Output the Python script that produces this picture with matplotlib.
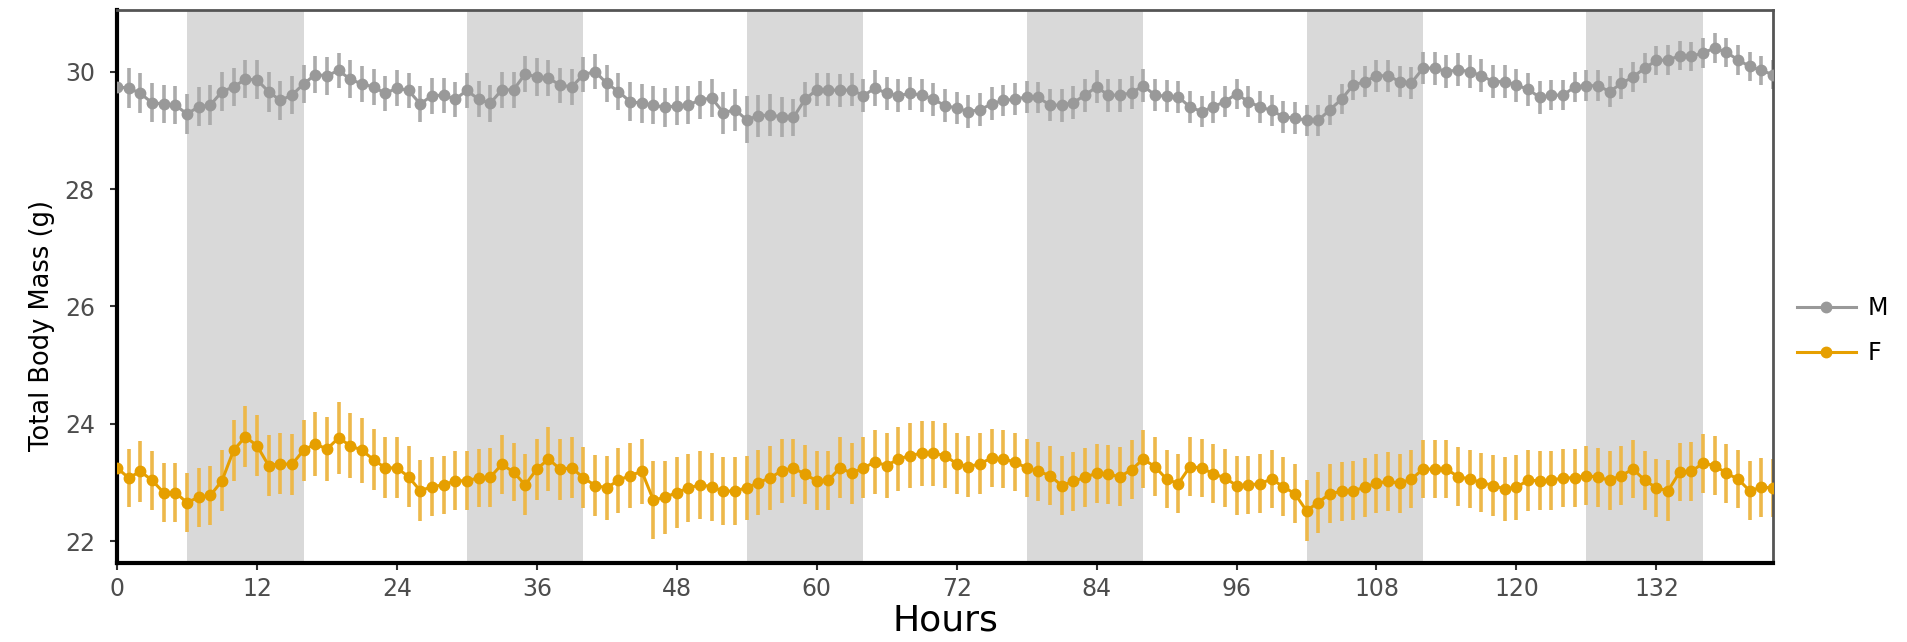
import matplotlib
matplotlib.use("Agg")
import matplotlib.pyplot as plt
from matplotlib.lines import Line2D

hours = list(range(143))

male_mean = [
    29.74, 29.72, 29.63, 29.47, 29.45, 29.43, 29.28, 29.40, 29.43, 29.66,
    29.74, 29.87, 29.86, 29.66, 29.51, 29.60, 29.79, 29.95, 29.93, 30.02,
    29.87, 29.79, 29.74, 29.63, 29.72, 29.68, 29.45, 29.59, 29.60, 29.53,
    29.68, 29.53, 29.46, 29.69, 29.69, 29.96, 29.91, 29.89, 29.77, 29.74,
    29.95, 30.00, 29.80, 29.66, 29.49, 29.46, 29.43, 29.39, 29.42, 29.43,
    29.52, 29.55, 29.30, 29.35, 29.18, 29.25, 29.26, 29.23, 29.22, 29.53,
    29.69, 29.69, 29.68, 29.69, 29.59, 29.72, 29.63, 29.59, 29.63, 29.60,
    29.53, 29.42, 29.38, 29.32, 29.35, 29.45, 29.51, 29.53, 29.57, 29.56,
    29.43, 29.43, 29.47, 29.60, 29.74, 29.60, 29.60, 29.64, 29.76, 29.60,
    29.58, 29.57, 29.40, 29.32, 29.40, 29.49, 29.62, 29.49, 29.40, 29.34,
    29.23, 29.21, 29.17, 29.17, 29.35, 29.53, 29.77, 29.83, 29.93, 29.93,
    29.83, 29.81, 30.06, 30.06, 30.00, 30.03, 30.00, 29.93, 29.83, 29.83,
    29.77, 29.70, 29.56, 29.60, 29.60, 29.74, 29.76, 29.76, 29.66, 29.80,
    29.91, 30.06, 30.19, 30.20, 30.27, 30.26, 30.32, 30.40, 30.33, 30.20,
    30.09, 30.02, 29.95,
]

male_se = [
    0.32, 0.34, 0.34, 0.33, 0.32, 0.32, 0.34, 0.33, 0.34, 0.33,
    0.33, 0.32, 0.33, 0.34, 0.33, 0.32, 0.33, 0.32, 0.32, 0.30,
    0.32, 0.31, 0.30, 0.30, 0.30, 0.30, 0.30, 0.31, 0.30, 0.30,
    0.30, 0.31, 0.31, 0.31, 0.31, 0.31, 0.32, 0.30, 0.30, 0.31,
    0.30, 0.30, 0.31, 0.32, 0.33, 0.33, 0.32, 0.33, 0.33, 0.32,
    0.32, 0.33, 0.36, 0.36, 0.40, 0.36, 0.36, 0.34, 0.32, 0.30,
    0.28, 0.28, 0.28, 0.28, 0.28, 0.30, 0.28, 0.28, 0.28, 0.28,
    0.28, 0.28, 0.28, 0.28, 0.28, 0.28, 0.27, 0.27, 0.27, 0.27,
    0.27, 0.28, 0.28, 0.28, 0.28, 0.28, 0.28, 0.28, 0.28, 0.27,
    0.27, 0.27, 0.27, 0.27, 0.27, 0.26, 0.26, 0.27, 0.27, 0.27,
    0.27, 0.27, 0.27, 0.27, 0.26, 0.26, 0.26, 0.27, 0.27, 0.27,
    0.27, 0.27, 0.27, 0.28, 0.28, 0.28, 0.28, 0.28, 0.28, 0.28,
    0.28, 0.28, 0.28, 0.26, 0.26, 0.26, 0.26, 0.26, 0.26, 0.26,
    0.26, 0.25, 0.25, 0.25, 0.25, 0.25, 0.25, 0.25, 0.25, 0.25,
    0.25, 0.25, 0.25,
]

female_mean = [
    23.25, 23.08, 23.19, 23.04, 22.83, 22.83, 22.66, 22.75, 22.78, 23.03,
    23.55, 23.78, 23.63, 23.29, 23.32, 23.31, 23.55, 23.66, 23.57, 23.76,
    23.63, 23.55, 23.39, 23.25, 23.25, 23.10, 22.86, 22.93, 22.96, 23.03,
    23.03, 23.08, 23.09, 23.31, 23.18, 22.96, 23.23, 23.40, 23.23, 23.25,
    23.08, 22.95, 22.91, 23.04, 23.12, 23.19, 22.70, 22.75, 22.83, 22.91,
    22.96, 22.93, 22.85, 22.86, 22.91, 23.00, 23.08, 23.20, 23.25, 23.14,
    23.03, 23.04, 23.25, 23.16, 23.25, 23.35, 23.29, 23.40, 23.46, 23.50,
    23.50, 23.46, 23.32, 23.27, 23.32, 23.42, 23.40, 23.35, 23.25, 23.19,
    23.12, 22.95, 23.02, 23.09, 23.16, 23.14, 23.10, 23.22, 23.40, 23.27,
    23.06, 22.98, 23.27, 23.25, 23.15, 23.08, 22.95, 22.96, 22.98, 23.06,
    22.93, 22.81, 22.52, 22.66, 22.81, 22.85, 22.86, 22.92, 22.99, 23.02,
    22.99, 23.06, 23.23, 23.23, 23.23, 23.10, 23.06, 23.00, 22.95, 22.89,
    22.92, 23.04, 23.03, 23.04, 23.08, 23.08, 23.12, 23.09, 23.04, 23.12,
    23.23, 23.04, 22.91, 22.86, 23.18, 23.19, 23.33, 23.29, 23.16, 23.06,
    22.86, 22.92, 22.91,
]

female_se = [
    0.50, 0.50, 0.52, 0.50, 0.50, 0.50, 0.50, 0.50, 0.50, 0.52,
    0.52, 0.52, 0.52, 0.52, 0.52, 0.52, 0.52, 0.55, 0.55, 0.62,
    0.55, 0.55, 0.52, 0.52, 0.52, 0.52, 0.52, 0.50, 0.50, 0.50,
    0.50, 0.50, 0.50, 0.50, 0.50, 0.52, 0.52, 0.55, 0.52, 0.52,
    0.52, 0.52, 0.55, 0.55, 0.55, 0.55, 0.66, 0.62, 0.60, 0.58,
    0.58, 0.58, 0.58, 0.58, 0.55, 0.55, 0.55, 0.55, 0.50, 0.50,
    0.50, 0.50, 0.52, 0.52, 0.52, 0.55, 0.55, 0.55, 0.55, 0.55,
    0.55, 0.55, 0.52, 0.52, 0.52, 0.50, 0.50, 0.50, 0.50, 0.50,
    0.50, 0.50, 0.50, 0.50, 0.50, 0.50, 0.50, 0.50, 0.50, 0.50,
    0.50, 0.50, 0.50, 0.50, 0.50, 0.50, 0.50, 0.50, 0.50, 0.50,
    0.50, 0.50, 0.52, 0.52, 0.50, 0.50, 0.50, 0.50, 0.50, 0.50,
    0.50, 0.50, 0.50, 0.50, 0.50, 0.50, 0.50, 0.50, 0.52, 0.55,
    0.55, 0.52, 0.50, 0.50, 0.50, 0.50, 0.50, 0.50, 0.50, 0.50,
    0.50, 0.50, 0.50, 0.52, 0.50, 0.50, 0.50, 0.50, 0.50, 0.50,
    0.50, 0.50, 0.50,
]

dark_start = [6, 30, 54, 78, 102, 126]
dark_end = [16, 40, 64, 88, 112, 136]

x_ticks = [0, 12, 24, 36, 48, 60, 72, 84, 96, 108, 120, 132]
y_ticks = [22, 24, 26, 28, 30]

series_labels = ["M", "F"]
c_m = "#999999"
c_m_err = "#ABABAB"
c_f = "#E69F00"
c_f_err = "#EDB84A"

fig = plt.figure(figsize=(19.07, 6.42), dpi=100)
ax = fig.add_axes([117 / 1907, 1 - 563 / 642, (1773 - 117) / 1907, (563 - 10) / 642])

for s, e in zip(dark_start, dark_end):
    ax.axvspan(s, e, color="#D9D9D9", lw=0, zorder=0)

ax.errorbar(hours, male_mean, yerr=male_se, fmt="none", ecolor=c_m_err, elinewidth=2.6, capsize=0, zorder=2)
ax.plot(hours, male_mean, color=c_m, lw=2.2, marker="o", ms=7.5, mec=c_m, mfc=c_m, zorder=3)

ax.errorbar(hours, female_mean, yerr=female_se, fmt="none", ecolor=c_f_err, elinewidth=2.6, capsize=0, zorder=2)
ax.plot(hours, female_mean, color=c_f, lw=2.2, marker="o", ms=7.5, mec=c_f, mfc=c_f, zorder=3)

ax.set_xlim(0, 142)
ax.set_ylim(21.63, 31.05)
ax.set_xticks(x_ticks)
ax.set_xticklabels([str(t) for t in x_ticks])
ax.set_yticks(y_ticks)
ax.set_yticklabels([str(t) for t in y_ticks])

ax.tick_params(axis="both", direction="out", length=5, width=1.5, color="#333333",
               labelsize=17, labelcolor="#4D4D4D")
ax.tick_params(axis="x", pad=5)
ax.tick_params(axis="y", pad=11)

for side in ["left", "bottom"]:
    ax.spines[side].set_linewidth(3)
    ax.spines[side].set_color("black")
for side in ["top", "right"]:
    ax.spines[side].set_linewidth(2)
    ax.spines[side].set_color("#555555")

ax.set_xlabel("Hours", fontsize=26, labelpad=2)
ax.set_ylabel("Total Body Mass (g)", fontsize=18.5)
ax.yaxis.set_label_coords(-0.0374, 0.429)

handles = [
    Line2D([0], [0], color=c_m, lw=2.2, marker="o", ms=7.5),
    Line2D([0], [0], color=c_f, lw=2.2, marker="o", ms=7.5),
]
fig.legend(handles, series_labels, loc="center left", bbox_to_anchor=(1780 / 1907, 0.485),
           frameon=False, fontsize=17, handlelength=2.5, labelspacing=0.9, handletextpad=0.5,
           borderpad=0.2)

fig.savefig("out.png", dpi=100)
